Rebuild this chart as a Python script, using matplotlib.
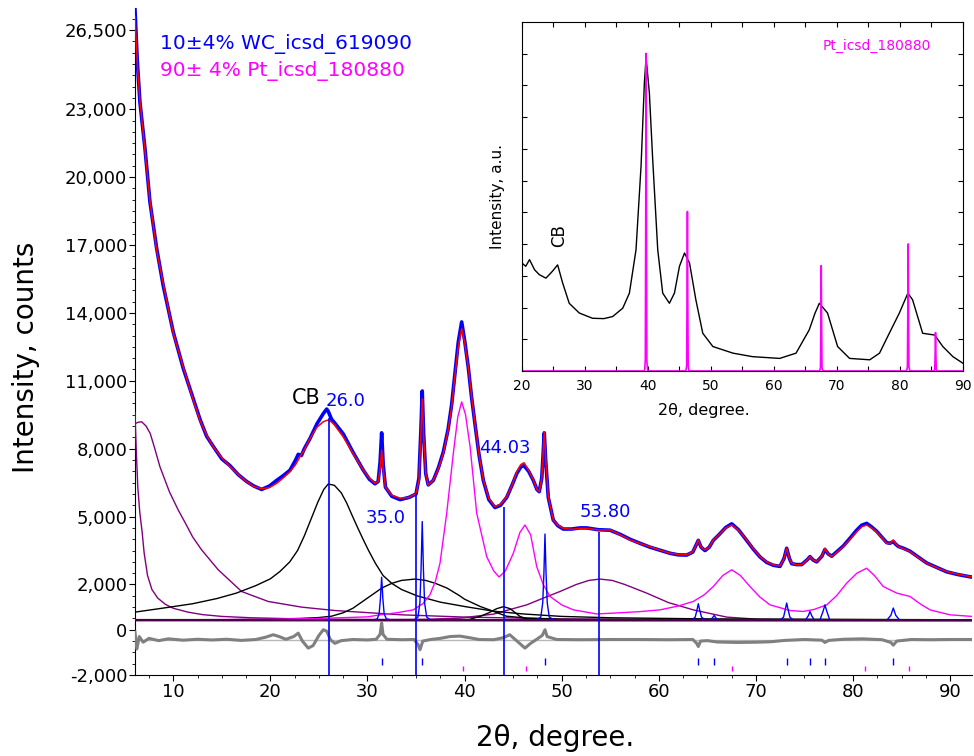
import matplotlib
matplotlib.use("Agg")
import matplotlib.pyplot as plt
from matplotlib.ticker import FixedLocator, MultipleLocator, FuncFormatter, NullFormatter

# ---- main pattern: observed (blue) and fitted (red), counts vs 2theta
two_theta = [6.06, 6.3, 6.57, 7.09, 7.60, 8.29, 8.97, 10.0, 11.03, 12.06, 12.75, 13.44, 14.12, 15.0,
             15.84, 16.7, 17.56, 18.3, 19.10, 19.9, 20.65, 21.3, 22.02, 22.6, 22.87, 23.2, 23.5, 24.08,
             24.8, 25.45, 25.8, 25.96, 26.3, 26.6, 27.51, 28.5, 29.57, 30.2, 30.77, 31.1, 31.3, 31.46,
             31.62, 31.85, 32.5, 33.35, 34.3, 35.0, 35.3, 35.5, 35.64, 35.78, 36.0, 36.26, 36.78, 37.3,
             37.81, 38.3, 38.67, 39.0, 39.35, 39.70, 40.0, 40.38, 40.7, 41.07, 41.5, 41.93, 42.5, 43.13,
             43.7, 44.34, 44.9, 45.37, 45.8, 46.12, 46.6, 47.08, 47.45, 47.69, 47.95, 48.1, 48.21, 48.35,
             48.62, 49.13, 49.6, 50.16, 51.0, 51.88, 52.57, 53.77, 54.97, 56.0, 57.03, 58.0, 59.09, 60.1,
             61.15, 62.0, 62.87, 63.5, 63.8, 64.07, 64.35, 64.76, 65.2, 65.61, 66.2, 66.9, 67.51, 68.2,
             69.05, 69.7, 70.42, 71.1, 71.79, 72.48, 72.9, 73.17, 73.45, 73.69, 74.2, 74.72, 75.3, 75.57,
             75.9, 76.26, 76.8, 77.11, 77.45, 77.81, 78.4, 79.0, 79.7, 80.38, 80.9, 81.41, 81.9, 82.44,
             83.0, 83.47, 83.8, 84.15, 84.4, 84.67, 85.2, 85.87, 86.7, 87.59, 88.6, 89.65, 90.8, 92.05, 92.25]
fit_counts = [27100, 25000, 23370, 21170, 18960, 16760, 15300, 13100, 11600, 10150, 9250, 8600, 8080, 7600,
              7200, 6850, 6540, 6330, 6230, 6280, 6470, 6700, 6980, 7300, 7500, 7750, 7950, 8450,
              8950, 9190, 9250, 9260, 9180, 9050, 8520, 7800, 7050, 6700, 6470, 6550, 7100, 7940,
              7100, 6300, 5950, 5810, 5850, 6030, 6600, 8600, 10200, 8600, 6900, 6390, 6620, 7100,
              7790, 8800, 9850, 11200, 12490, 13300, 12700, 11610, 10400, 9120, 7700, 6620, 5800, 5440,
              5550, 5880, 6400, 6980, 7300, 7380, 7050, 6620, 6200, 6100, 6700, 7900, 8750, 7600,
              5880, 4850, 4620, 4480, 4440, 4480, 4480, 4410, 4410, 4200, 3970, 3820, 3670, 3520,
              3380, 3330, 3310, 3450, 3700, 3970, 3650, 3530, 3650, 3970, 4200, 4500, 4630, 4400,
              3970, 3600, 3230, 3000, 2870, 2820, 3150, 3600, 3150, 2940, 2870, 2870, 3100, 3230,
              3080, 3010, 3250, 3600, 3350, 3230, 3450, 3670, 4000, 4330, 4550, 4630, 4500, 4330,
              4050, 3820, 3800, 3970, 3800, 3670, 3580, 3450, 3200, 2940, 2750, 2570, 2450, 2350, 2340]
obs_counts = [27400, 25100, 23300, 21250, 18900, 16850, 15200, 13150, 11550, 10200, 9300, 8550, 8100, 7550,
              7250, 6850, 6550, 6350, 6200, 6350, 6600, 6800, 7050, 7500, 7750, 7700, 8000, 8450,
              9100, 9550, 9750, 9650, 9300, 9150, 8650, 7850, 7050, 6650, 6450, 6550, 7400, 8700,
              7300, 6300, 5900, 5750, 5850, 6000, 6700, 8800, 10550, 8700, 6900, 6400, 6600, 7150,
              7850, 8850, 9950, 11300, 12700, 13600, 12800, 11600, 10350, 9100, 7700, 6600, 5750, 5400,
              5500, 5850, 6400, 6900, 7200, 7250, 7000, 6600, 6200, 6100, 6700, 7900, 8700, 7500,
              5850, 4850, 4600, 4450, 4450, 4500, 4500, 4420, 4400, 4220, 4000, 3830, 3650, 3520,
              3380, 3310, 3300, 3430, 3700, 3950, 3650, 3500, 3650, 3950, 4200, 4520, 4680, 4420,
              3950, 3580, 3220, 2980, 2850, 2800, 3150, 3600, 3150, 2920, 2880, 2880, 3100, 3230,
              3080, 3000, 3250, 3550, 3350, 3250, 3470, 3700, 4050, 4400, 4620, 4700, 4550, 4350,
              4080, 3850, 3820, 3900, 3780, 3680, 3600, 3470, 3220, 2950, 2760, 2560, 2440, 2340, 2330]

# ---- difference curve (grey)
diff_2theta = [6.06, 6.25, 6.5, 6.9, 7.5, 8.5, 9.5, 11, 12.5, 14, 15.5, 17, 18.5, 19.5, 20.3, 20.9, 21.6,
               22.4, 22.87, 23.3, 23.9, 24.4, 25.0, 25.45, 25.8, 26.2, 26.65, 27.3, 28.5, 30, 30.9, 31.3,
               31.46, 31.6, 32, 33.5, 34.8, 35.2, 35.41, 35.7, 36.5, 37.5, 38.5, 39.5, 40.5, 41.5, 43, 44.0,
               44.65, 45.4, 46.22, 46.8, 47.5, 48.0, 48.28, 48.5, 49.5, 52, 55, 58, 61, 63.5, 63.9, 64.07,
               64.3, 65, 66, 68, 70, 71.5, 73, 75, 76.8, 77.11, 77.5, 79, 81, 83, 83.9, 84.15, 84.5, 86,
               88, 90, 92.25]
diff_counts = [-100, -850, -300, -550, -380, -480, -400, -460, -420, -450, -420, -470, -430, -330, -220, -300,
               -420, -300, -150, -500, -810, -700, -250, 0, -60, -450, -600, -480, -430, -450, -420, -200,
               300, -200, -420, -440, -430, -650, -880, -500, -430, -380, -300, -280, -350, -430, -440, -350,
               -220, -500, -810, -600, -400, -250, 0, -300, -430, -440, -430, -430, -440, -430, -600, -740,
               -500, -480, -540, -560, -550, -530, -470, -430, -460, -560, -470, -420, -400, -440, -560, -680,
               -500, -430, -440, -430, -430]
diff_zero = -470

# ---- fitted components
baseline_2theta = [6.06, 92.25]
baseline_counts = [425, 415]

purple_a_2theta = [6.06, 6.2, 6.35, 6.55, 6.8, 7.0, 7.35, 7.8, 8.4, 9.2, 10.0, 11.5, 13.0, 15.0, 18.0, 22.0,
                   28.0, 35.0, 45.0, 60.0, 92.25]
purple_a_counts = [9600, 7800, 6300, 5200, 4300, 3400, 2400, 1780, 1400, 1120, 950, 780, 670, 590, 530, 490,
                   460, 450, 440, 430, 420]

purple_b_2theta = [6.06, 6.4, 6.75, 7.2, 7.63, 8.1, 8.63, 9.6, 10.5, 11.2, 12.0, 12.92, 14.63, 17.04, 19.78,
                   23.22, 26.65, 33.52, 40.04, 50.0, 60.0, 92.25]
purple_b_counts = [9110, 9170, 9190, 9000, 8670, 8000, 7200, 6100, 5300, 4750, 4100, 3530, 2650, 1690, 1250,
                   1000, 850, 660, 560, 480, 450, 430]

cb_2theta = [6.06, 9.0, 12.0, 14.5, 16.5, 18.5, 20.0, 21.0, 22.0, 22.8, 23.5, 24.2, 24.9, 25.5, 25.96,
             26.6, 27.3, 27.86, 28.37, 29.0, 29.57, 30.08, 30.8, 31.6, 32.5, 33.5, 35.1, 37.5, 40.1, 43.0,
             46.0, 50.0, 55.0, 65.0, 92.25]
cb_counts = [780, 960, 1150, 1380, 1620, 1950, 2250, 2580, 3000, 3500, 4150, 4900, 5650, 6200, 6440,
             6380, 6050, 5600, 5100, 4500, 3980, 3530, 2950, 2400, 2050, 1780, 1500, 1220, 1020, 820,
             700, 590, 530, 480, 440]

black35_2theta = [15.0, 20.0, 23.0, 25.0, 26.3, 27.5, 28.5, 29.5, 30.5, 31.5, 32.5, 33.5, 34.9, 36.0, 37.0,
                  38.2, 39.5, 40.0, 41.6, 43.0, 44.3, 46.4, 50.0, 92.25]
black35_counts = [440, 470, 500, 540, 600, 750, 950, 1250, 1550, 1850, 2050, 2180, 2240, 2180, 2050,
                  1840, 1500, 1350, 1030, 810, 600, 516, 460, 440]

black44_2theta = [38.0, 40.5, 41.6, 42.5, 43.3, 44.0, 44.7, 45.7, 46.5, 50.0]
black44_counts = [440, 460, 590, 750, 930, 1020, 930, 590, 470, 440]

purple54_2theta = [30.0, 36.0, 39.53, 42.96, 46.4, 48.0, 49.82, 51.5, 52.8, 53.94, 55.2, 56.5, 58.75, 61.0,
                   63.55, 66.99, 70.4, 80.0, 92.25]
purple54_counts = [440, 460, 516, 690, 1100, 1380, 1690, 2000, 2180, 2240, 2180, 2000, 1620, 1200,
                   880, 560, 460, 440, 430]

pt_2theta = [6.06, 15.0, 20.0, 25.0, 30.0, 31.29, 33.0, 34.72, 35.7, 36.44, 37.0, 37.47, 38.16, 38.84, 39.3,
             39.7, 40.1, 40.57, 41.25, 42.28, 43.0, 43.55, 44.2, 45.02, 45.7, 46.22, 46.8, 47.43, 48.1, 48.8,
             50.0, 51.2, 53.6, 55.5, 58.0, 60.12, 62.0, 63.55, 64.7, 65.61, 66.6, 67.51, 68.4, 69.39, 70.4,
             71.45, 73.51, 74.88, 76.0, 77.29, 78.3, 79.35, 80.4, 81.41, 82.2, 83.12, 84.5, 85.87, 86.9,
             87.93, 89.99, 92.25]
pt_counts = [430, 450, 470, 500, 570, 660, 750, 880, 1150, 1550, 2150, 2940, 5150, 7790, 9400,
             10070, 9500, 8080, 5150, 3230, 2600, 2330, 2600, 3380, 4300, 4630, 4200, 2790, 2000, 1470,
             1100, 880, 700, 740, 800, 880, 1050, 1250, 1550, 1910, 2400, 2650, 2400, 1910, 1450,
             1100, 850, 810, 900, 1100, 1500, 2060, 2500, 2720, 2400, 1910, 1620, 1470, 1150,
             880, 660, 590]

wc_2theta = [6.06, 30.6, 31.0, 31.2, 31.33, 31.46, 31.59, 31.72, 31.95, 32.4,
             34.8, 35.2, 35.4, 35.52, 35.64, 35.76, 35.88, 36.1, 36.5,
             47.4, 47.85, 48.05, 48.17, 48.28, 48.39, 48.51, 48.72, 49.2,
             63.4, 63.75, 63.92, 64.07, 64.22, 64.4, 64.75, 65.3, 65.55, 65.7, 65.85, 66.1,
             72.5, 72.85, 73.02, 73.17, 73.32, 73.5, 73.85, 75.1, 75.4, 75.57, 75.75, 76.0,
             76.6, 76.92, 77.11, 77.3, 77.6, 83.5, 83.9, 84.15, 84.4, 84.8, 92.25]
wc_counts = [430, 430, 480, 700, 1350, 2320, 1350, 700, 480, 440,
             440, 560, 1200, 2700, 4780, 2700, 1200, 560, 440,
             440, 560, 1200, 2500, 4230, 2500, 1200, 560, 440,
             430, 560, 850, 1150, 850, 560, 440, 430, 540, 630, 540, 430,
             430, 560, 880, 1180, 880, 560, 430, 430, 620, 810, 620, 440,
             440, 820, 1100, 820, 440, 430, 640, 960, 640, 430, 420]

# ---- reflection markers and marked positions
wc_ticks = [31.46, 35.64, 48.28, 64.07, 65.7, 73.17, 75.57, 77.11, 84.15]
pt_ticks = [39.8, 46.29, 67.51, 81.24, 85.77]
marked_pos = [26.0, 35.0, 44.03, 53.80]
marked_top = [9350, 6040, 5420, 4320]
marked_text = ["26.0", "35.0", "44.03", "53.80"]
marked_text_xy = [(27.79, 10100), (31.9, 4940), (44.16, 8030), (54.46, 5200)]

y_tick_values = [-2000, 0, 2000, 5000, 8000, 11000, 14000, 17000, 20000, 23000, 26500]

# ---- inset: normalised pattern and Pt reference
inset_2theta = [20.0, 20.6, 21.2, 22.0, 22.75, 23.8, 24.8, 25.66, 26.46, 27.5, 29.1, 31.2, 33.0, 34.4, 36.0,
                37.05, 38.1, 38.9, 39.43, 39.7, 40.22, 40.75, 41.55, 42.34, 43.4, 44.2, 45.0, 45.8, 46.6,
                47.6, 48.7, 50.3, 53.5, 56.6, 60.9, 63.5, 65.6, 66.5, 67.2, 68.5, 70.1, 72.0, 75.2, 76.75,
                78.3, 79.9, 81.25, 82.0, 83.6, 85.5, 86.8, 88.4, 90.0]
inset_intensity = [.309, .30, .319, .29, .276, .266, .285, .304, .252, .194, .166, .151, .150, .156, .18,
                   .223, .347, .587, .826, .898, .797, .606, .347, .223, .194, .223, .3, .338, .309,
                   .204, .108, .07, .051, .041, .036, .051, .118, .165, .194, .166, .07, .036, .032, .051,
                   .108, .166, .223, .204, .108, .103, .07, .041, .022]
pt_ref_2theta = [20.0, 39.45, 39.58, 39.64, 39.7, 39.76, 39.82, 39.95, 46.01, 46.14, 46.2, 46.26, 46.32,
                 46.38, 46.51, 67.25, 67.38, 67.44, 67.5, 67.56, 67.62, 67.75, 81.05, 81.18, 81.24, 81.3,
                 81.36, 81.42, 81.55, 85.39, 85.52, 85.58, 85.64, 85.7, 85.76, 85.89, 90.0]
pt_ref_intensity = [0, 0, .03, .42, .91, .42, .03, 0, 0, .015, .21, .457, .21, .015, 0,
                    0, .01, .14, .302, .14, .01, 0, 0, .012, .17, .364, .17, .012, 0,
                    0, .004, .05, .11, .05, .004, 0, 0]

fig = plt.figure(figsize=(9.74, 7.56), dpi=100)
ax = fig.add_axes([0.1386, 0.1071, 0.8593, 0.8823])

ax.plot(purple_a_2theta, purple_a_counts, color="#800080", lw=1.0, zorder=3)
ax.plot(purple_b_2theta, purple_b_counts, color="#800080", lw=1.0, zorder=3)
ax.plot(purple54_2theta, purple54_counts, color="#800080", lw=1.0, zorder=3)
ax.plot(cb_2theta, cb_counts, color="black", lw=1.0, zorder=3)
ax.plot(black35_2theta, black35_counts, color="black", lw=1.0, zorder=3)
ax.plot(black44_2theta, black44_counts, color="black", lw=1.0, zorder=3)
ax.plot(pt_2theta, pt_counts, color="#ff00ff", lw=1.0, zorder=3)
ax.plot(wc_2theta, wc_counts, color="#0000ff", lw=1.0, zorder=3)
# background line drawn over the component feet
ax.plot(baseline_2theta, baseline_counts, color="#4b004b", lw=1.8, zorder=3.5)

ax.axhline(diff_zero, color="#b8b8b8", lw=1.0, zorder=2)
ax.plot(diff_2theta, diff_counts, color="#808080", lw=2.2, zorder=3)

ax.plot(two_theta, obs_counts, color="#0000ff", lw=2.6, zorder=4)
ax.plot(two_theta, fit_counts, color="#ff0000", lw=1.1, zorder=5)

ax.vlines(wc_ticks, -1570, -1240, color="#0000ff", lw=1.0, zorder=4)
ax.vlines(pt_ticks, -1840, -1590, color="#ff00ff", lw=1.0, zorder=4)
ax.vlines(marked_pos, -2000, marked_top, color="#0000ff", lw=1.2, zorder=6)

for txt, (x, y) in zip(marked_text, marked_text_xy):
    ax.text(x, y, txt, color="#0000ff", fontsize=13, ha="center", va="center", zorder=7)
ax.text(23.74, 10230, "CB", color="black", fontsize=15, ha="center", va="center", zorder=7)

ax.text(8.63, 25900, "10\u00b14% WC_icsd_619090", color="#0000ff", fontsize=14.5, ha="left", va="center")
ax.text(8.63, 24700, "90\u00b1 4% Pt_icsd_180880", color="#ff00ff", fontsize=14.5, ha="left", va="center")

ax.set_xlim(6.06, 92.25)
ax.set_ylim(-2000, 27470)
ax.yaxis.set_major_locator(FixedLocator(y_tick_values))
ax.yaxis.set_major_formatter(FuncFormatter(lambda v, p: f"{v:,.0f}"))
ax.yaxis.set_minor_locator(MultipleLocator(500))
ax.xaxis.set_major_locator(MultipleLocator(10))
ax.xaxis.set_minor_locator(MultipleLocator(2.5))
ax.tick_params(which="major", direction="out", length=4, width=0.8, labelsize=13, pad=1.5)
ax.tick_params(which="minor", direction="out", length=2.5, width=0.6)
ax.spines["top"].set_visible(False)
ax.spines["right"].set_visible(False)

ax.set_ylabel("Intensity, counts", fontsize=20)
ax.yaxis.set_label_coords(-0.1135, 0.477)
ax.set_xlabel("2\u03b8, degree.", fontsize=20)
ax.xaxis.set_label_coords(0.502, -0.073)

# inset
axin = fig.add_axes([0.5359, 0.5093, 0.4528, 0.4616])
axin.plot(inset_2theta, inset_intensity, color="black", lw=1.0)
axin.plot(pt_ref_2theta, pt_ref_intensity, color="#ff00ff", lw=1.2)
axin.set_xlim(20, 90)
axin.set_ylim(0, 1)
axin.xaxis.set_major_locator(MultipleLocator(10))
axin.xaxis.set_minor_locator(MultipleLocator(5))
axin.yaxis.set_major_locator(FixedLocator([i / 11 for i in range(1, 11)]))
axin.yaxis.set_major_formatter(NullFormatter())
axin.tick_params(which="both", direction="in", top=True, right=True, labelsize=10, pad=6)
axin.tick_params(which="major", length=3.5, width=0.8)
axin.tick_params(which="minor", length=3.5, width=0.8)
axin.set_xlabel("2\u03b8, degree.", fontsize=11.5)
axin.xaxis.set_label_coords(0.413, -0.092)
axin.set_ylabel("Intensity, a.u.", fontsize=11)
axin.yaxis.set_label_coords(-0.0385, 0.5)
axin.text(25.9, 0.387, "CB", rotation=90, fontsize=12, ha="center", va="center")
axin.text(76.4, 0.93, "Pt_icsd_180880", color="#ff00ff", fontsize=10, ha="center", va="center")

fig.savefig("out.png", dpi=100)
